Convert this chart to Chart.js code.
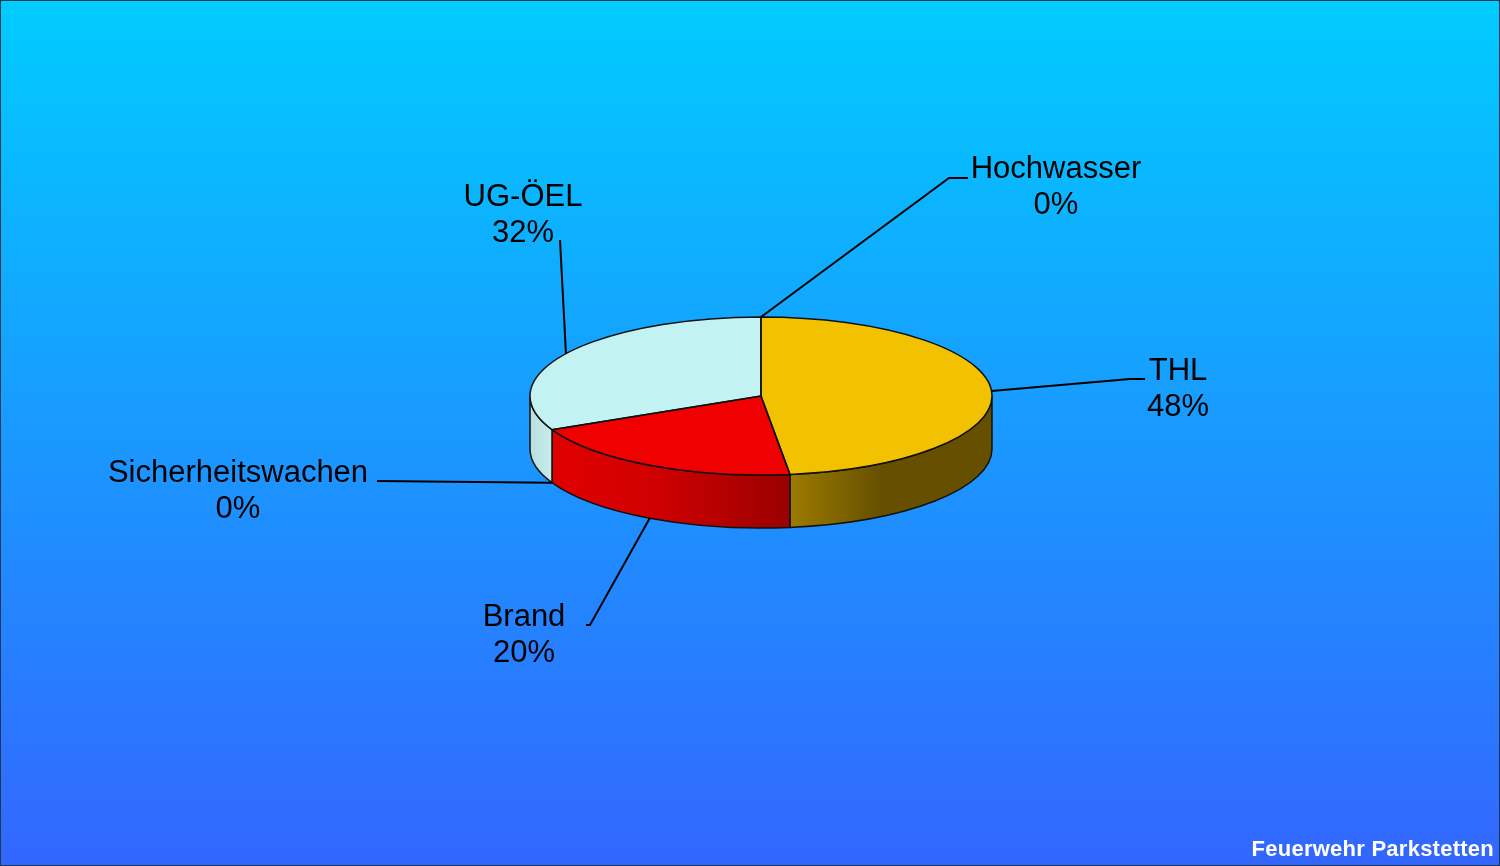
<!DOCTYPE html>
<html>
<head>
<meta charset="utf-8">
<script src="https://cdn.jsdelivr.net/npm/chart.js@4.4.0/dist/chart.umd.min.js"></script>
<style>
  html, body { margin: 0; padding: 0; background: #1a99ff; }
  #wrap { width: 1500px; height: 866px; }
</style>
</head>
<body>
<div id="wrap"><canvas id="canvas1" width="1500" height="866"></canvas></div>
<script>
// Einsatzarten (Anzahl Einsätze)
const categories = ['THL', 'Brand', 'Sicherheitswachen', 'UG-ÖEL', 'Hochwasser'];
const counts = [12, 5, 0, 8, 0];

const topColors = ['#F2C200', '#F00000', '#FF8800', '#C2F2F2', '#3366FF'];
const sideStops = [
  [[0, '#9C7B00'], [0.45, '#665000'], [1, '#665000']],
  [[0, '#E00000'], [0.4, '#D20000'], [1, '#9A0000']],
  [[0, '#CC6600'], [1, '#AA5500']],
  [[0, '#B8DEDE'], [1, '#C6ECEC']],
  [[0, '#2244AA'], [1, '#2244AA']]
];
// leader line bends and label text positions (per slice)
const leaderBends = [
  [[1130, 379], [1145, 379]],
  [[590, 625], [586, 625]],
  [[377, 481]],
  [[560, 240]],
  [[949, 178], [968, 178]]
];
const labelSpots = [[1178, 380], [524, 626], [238, 482], [523, 206], [1056, 178]];

const squash = 0.342;
const depth = 53;
const canvas = document.getElementById('canvas1');
var ctx = canvas.getContext('2d');

function geom(chart) {
  const arcs = chart.getDatasetMeta(0).data;
  const a = arcs[0];
  return { arcs: arcs, cx: a.x, cy: a.y, rx: a.outerRadius, ry: a.outerRadius * squash };
}

const pie3d = {
  id: 'pie3d',
  beforeDraw(chart) {
    const c = chart.ctx;
    const g = c.createLinearGradient(0, 0, 0, chart.height);
    g.addColorStop(0, '#00CCFF');
    g.addColorStop(1, '#3366FF');
    c.save();
    c.fillStyle = g;
    c.fillRect(0, 0, chart.width, chart.height);
    c.strokeStyle = '#1b3a52';
    c.lineWidth = 1;
    c.strokeRect(0.5, 0.5, chart.width - 1, chart.height - 1);
    c.restore();
  },
  beforeDatasetsDraw(chart) {
    const c = chart.ctx;
    const { arcs, cx, cy, rx, ry } = geom(chart);
    c.save();
    c.strokeStyle = '#111';
    c.lineWidth = 1.5;
    arcs.forEach((arc, i) => {
      const lo = Math.max(arc.startAngle, 0);
      const hi = Math.min(arc.endAngle, Math.PI);
      if (hi <= lo) return;
      const left = cx + rx * Math.cos(hi);
      const right = cx + rx * Math.cos(lo);
      const g = c.createLinearGradient(left, 0, right, 0);
      sideStops[i].forEach(s => g.addColorStop(s[0], s[1]));
      c.beginPath();
      c.ellipse(cx, cy, rx, ry, 0, lo, hi, false);
      c.ellipse(cx, cy + depth, rx, ry, 0, hi, lo, true);
      c.closePath();
      c.fillStyle = g;
      c.fill();
      c.stroke();
    });
    c.restore();
    c.save();
    c.translate(cx, cy);
    c.scale(1, squash);
    c.translate(-cx, -cy);
  },
  afterDatasetsDraw(chart) {
    const c = chart.ctx;
    c.restore();
    const { arcs, cx, cy, rx, ry } = geom(chart);
    c.save();
    c.strokeStyle = '#111';
    c.lineWidth = 1.5;
    arcs.forEach(arc => {
      if (arc.endAngle - arc.startAngle <= 0) return;
      c.beginPath();
      c.moveTo(cx, cy);
      c.ellipse(cx, cy, rx, ry, 0, arc.startAngle, arc.endAngle, false);
      c.closePath();
      c.stroke();
    });
    const total = counts.reduce((a, b) => a + b, 0);
    c.lineWidth = 2;
    c.strokeStyle = '#000';
    c.fillStyle = '#000';
    c.font = '31px "Liberation Sans", Arial, sans-serif';
    c.textAlign = 'center';
    c.textBaseline = 'alphabetic';
    arcs.forEach((arc, i) => {
      const m = (arc.startAngle + arc.endAngle) / 2;
      const ax = cx + rx * Math.cos(m);
      let ay = cy + ry * Math.sin(m);
      if (Math.sin(m) > 0) ay += depth;
      c.beginPath();
      c.moveTo(ax, ay);
      leaderBends[i].forEach(p => c.lineTo(p[0], p[1]));
      c.stroke();
      const pct = Math.round(counts[i] / total * 100) + '%';
      c.fillText(categories[i], labelSpots[i][0], labelSpots[i][1]);
      c.fillText(pct, labelSpots[i][0], labelSpots[i][1] + 36);
    });
    c.font = 'bold 22px "Liberation Sans", Arial, sans-serif';
    c.letterSpacing = '0.25px';
    c.fillStyle = '#fff';
    c.textAlign = 'right';
    c.fillText('Feuerwehr Parkstetten', 1494, 856);
    c.restore();
  }
};

const data = {
  labels: categories,
  datasets: [{
    data: counts,
    backgroundColor: topColors,
    borderWidth: 0,
    hoverOffset: 0,
    clip: false
  }]
};
const options = {
  responsive: false,
  animation: false,
  events: [],
  layout: {
    padding: { left: 530, right: 508, top: 165, bottom: 239 }
  },
  plugins: {
    legend: { display: false },
    tooltip: { enabled: false }
  }
};
var myChart = new Chart(ctx, {
  type: 'pie',
  data: data,
  options: options,
  plugins: [pie3d]
});
</script>
</body>
</html>
